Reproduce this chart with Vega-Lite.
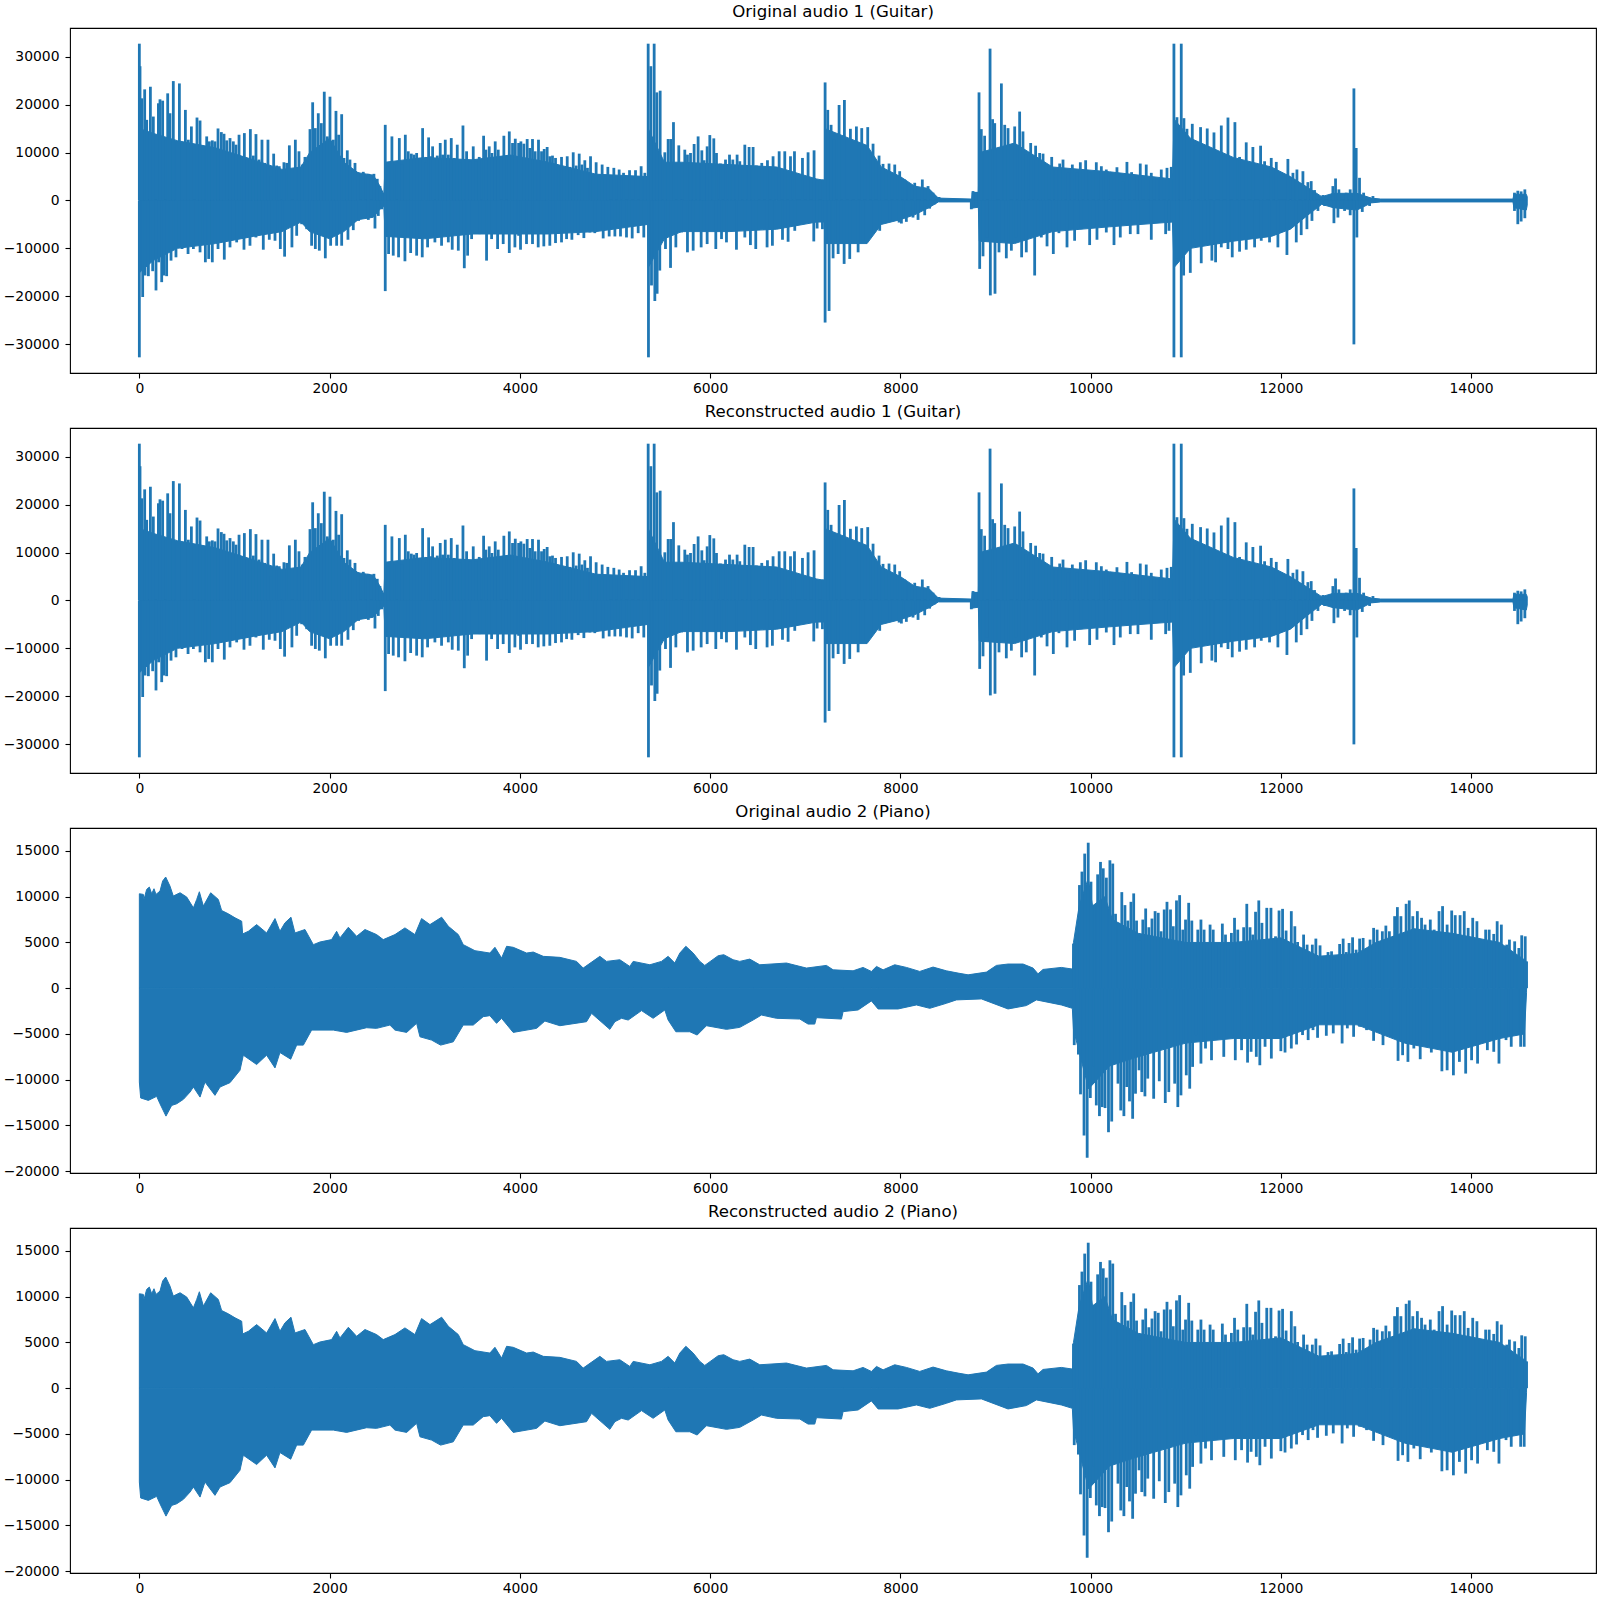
{"$schema":"https://vega.github.io/schema/vega-lite/v6.json","background":"white","padding":{"left":2,"top":3,"right":2,"bottom":2},"spacing":5,"config":{"view":{"stroke":"#000000","strokeWidth":1.1},"font":"DejaVu Sans","axis":{"grid":false,"domain":false,"tickColor":"#000000","tickWidth":1.1,"tickSize":5,"labelColor":"#000000","labelFontSize":13.9,"labelFont":"DejaVu Sans","title":null},"axisY":{"labelPadding":6,"minExtent":60,"maxExtent":60},"axisX":{"labelPadding":3,"minExtent":24,"maxExtent":24},"title":{"font":"DejaVu Sans","fontSize":16.6,"fontWeight":"normal","color":"#000000","offset":7}},
"datasets":{
"guitarEnv":[{"t":0,"v":0,"s":"top"},{"t":5,"v":15000,"s":"top"},{"t":150,"v":14000,"s":"top"},{"t":400,"v":12500,"s":"top"},{"t":800,"v":11000,"s":"top"},{"t":1200,"v":8500,"s":"top"},{"t":1500,"v":6500,"s":"top"},{"t":1700,"v":7000,"s":"top"},{"t":1790,"v":10000,"s":"top"},{"t":2000,"v":13000,"s":"top"},{"t":2150,"v":8000,"s":"top"},{"t":2300,"v":5800,"s":"top"},{"t":2460,"v":5300,"s":"top"},{"t":2530,"v":3000,"s":"top"},{"t":2570,"v":1300,"s":"top"},{"t":2585,"v":8000,"s":"top"},{"t":3000,"v":9000,"s":"top"},{"t":3500,"v":8500,"s":"top"},{"t":3900,"v":9500,"s":"top"},{"t":4300,"v":8000,"s":"top"},{"t":4800,"v":5500,"s":"top"},{"t":5345,"v":5000,"s":"top"},{"t":5350,"v":15000,"s":"top"},{"t":5520,"v":8000,"s":"top"},{"t":5700,"v":8000,"s":"top"},{"t":6200,"v":7500,"s":"top"},{"t":6700,"v":7000,"s":"top"},{"t":7120,"v":4500,"s":"top"},{"t":7205,"v":4200,"s":"top"},{"t":7210,"v":15000,"s":"top"},{"t":7650,"v":11500,"s":"top"},{"t":7800,"v":7000,"s":"top"},{"t":8000,"v":5000,"s":"top"},{"t":8150,"v":3000,"s":"top"},{"t":8300,"v":2500,"s":"top"},{"t":8400,"v":500,"s":"top"},{"t":8750,"v":300,"s":"top"},{"t":8755,"v":1700,"s":"top"},{"t":8820,"v":1700,"s":"top"},{"t":8830,"v":10000,"s":"top"},{"t":9200,"v":12000,"s":"top"},{"t":9600,"v":7000,"s":"top"},{"t":10200,"v":6000,"s":"top"},{"t":10860,"v":4500,"s":"top"},{"t":10878,"v":17000,"s":"top"},{"t":11050,"v":13000,"s":"top"},{"t":11500,"v":9000,"s":"top"},{"t":11900,"v":7000,"s":"top"},{"t":12100,"v":5000,"s":"top"},{"t":12300,"v":2500,"s":"top"},{"t":12430,"v":800,"s":"top"},{"t":12550,"v":1500,"s":"top"},{"t":12800,"v":1500,"s":"top"},{"t":12950,"v":500,"s":"top"},{"t":13050,"v":300,"s":"top"},{"t":14440,"v":300,"s":"top"},{"t":14450,"v":1300,"s":"top"},{"t":14580,"v":1300,"s":"top"},{"t":14590,"v":800,"s":"top"},
{"t":0,"v":0,"s":"bot"},{"t":5,"v":-15000,"s":"bot"},{"t":150,"v":-12500,"s":"bot"},{"t":400,"v":-10000,"s":"bot"},{"t":800,"v":-9000,"s":"bot"},{"t":1200,"v":-7500,"s":"bot"},{"t":1500,"v":-6500,"s":"bot"},{"t":1700,"v":-4500,"s":"bot"},{"t":1790,"v":-6500,"s":"bot"},{"t":2000,"v":-8000,"s":"bot"},{"t":2150,"v":-6500,"s":"bot"},{"t":2300,"v":-4000,"s":"bot"},{"t":2460,"v":-3500,"s":"bot"},{"t":2530,"v":-1800,"s":"bot"},{"t":2570,"v":-1200,"s":"bot"},{"t":2585,"v":-7500,"s":"bot"},{"t":3000,"v":-8000,"s":"bot"},{"t":3500,"v":-7000,"s":"bot"},{"t":3900,"v":-7000,"s":"bot"},{"t":4300,"v":-7000,"s":"bot"},{"t":4800,"v":-6500,"s":"bot"},{"t":5345,"v":-5000,"s":"bot"},{"t":5350,"v":-14000,"s":"bot"},{"t":5520,"v":-8000,"s":"bot"},{"t":5700,"v":-6500,"s":"bot"},{"t":6200,"v":-6500,"s":"bot"},{"t":6700,"v":-6000,"s":"bot"},{"t":7120,"v":-4500,"s":"bot"},{"t":7205,"v":-4500,"s":"bot"},{"t":7210,"v":-9000,"s":"bot"},{"t":7650,"v":-9000,"s":"bot"},{"t":7800,"v":-5000,"s":"bot"},{"t":8000,"v":-4000,"s":"bot"},{"t":8150,"v":-3000,"s":"bot"},{"t":8300,"v":-1500,"s":"bot"},{"t":8400,"v":-300,"s":"bot"},{"t":8750,"v":-300,"s":"bot"},{"t":8755,"v":-1600,"s":"bot"},{"t":8820,"v":-1400,"s":"bot"},{"t":8830,"v":-8500,"s":"bot"},{"t":9200,"v":-9000,"s":"bot"},{"t":9600,"v":-6500,"s":"bot"},{"t":10200,"v":-5500,"s":"bot"},{"t":10860,"v":-4500,"s":"bot"},{"t":10878,"v":-14000,"s":"bot"},{"t":11050,"v":-10000,"s":"bot"},{"t":11500,"v":-8500,"s":"bot"},{"t":11900,"v":-7500,"s":"bot"},{"t":12100,"v":-6000,"s":"bot"},{"t":12300,"v":-2800,"s":"bot"},{"t":12430,"v":-800,"s":"bot"},{"t":12550,"v":-1500,"s":"bot"},{"t":12800,"v":-2000,"s":"bot"},{"t":12950,"v":-500,"s":"bot"},{"t":13050,"v":-300,"s":"bot"},{"t":14440,"v":-300,"s":"bot"},{"t":14450,"v":-1500,"s":"bot"},{"t":14580,"v":-2000,"s":"bot"},{"t":14590,"v":-1000,"s":"bot"}],
"guitarSpikes":[{"t":0,"v":32767},{"t":7,"v":28060},{"t":25,"v":21350},{"t":56,"v":23220},{"t":77,"v":16850},{"t":116,"v":23770},{"t":147,"v":17540},{"t":200,"v":20310},{"t":217,"v":21140},{"t":245,"v":20860},{"t":298,"v":22390},{"t":322,"v":18230},{"t":357,"v":24950},{"t":393,"v":12350},{"t":421,"v":24460},{"t":452,"v":12010},{"t":484,"v":18930},{"t":515,"v":12700},{"t":547,"v":15470},{"t":606,"v":17330},{"t":638,"v":16710},{"t":673,"v":10620},{"t":708,"v":13390},{"t":736,"v":12350},{"t":767,"v":12560},{"t":795,"v":12350},{"t":827,"v":15050},{"t":862,"v":14290},{"t":890,"v":13940},{"t":918,"v":12560},{"t":953,"v":13040},{"t":988,"v":12350},{"t":1016,"v":11660},{"t":1048,"v":13740},{"t":1076,"v":9100},{"t":1104,"v":14080},{"t":1135,"v":8550},{"t":1167,"v":14910},{"t":1198,"v":9380},{"t":1226,"v":13870},{"t":1258,"v":8550},{"t":1289,"v":12700},{"t":1317,"v":7850},{"t":1352,"v":12700},{"t":1380,"v":5090},{"t":1412,"v":9790},{"t":1443,"v":7300},{"t":1471,"v":7160},{"t":1520,"v":7990},{"t":1549,"v":7850},{"t":1577,"v":11520},{"t":1640,"v":12700},{"t":1678,"v":10280},{"t":1713,"v":7510},{"t":1741,"v":9100},{"t":1766,"v":8200},{"t":1794,"v":14910},{"t":1822,"v":20520},{"t":1850,"v":15120},{"t":1881,"v":18230},{"t":1913,"v":16160},{"t":1944,"v":22730},{"t":1976,"v":13390},{"t":2004,"v":21690},{"t":2039,"v":12700},{"t":2067,"v":18720},{"t":2095,"v":13740},{"t":2127,"v":18030},{"t":2151,"v":8890},{"t":2186,"v":10480},{"t":2214,"v":8550},{"t":2242,"v":6470},{"t":2267,"v":7850},{"t":2298,"v":5920},{"t":2354,"v":5990},{"t":2407,"v":5570},{"t":2466,"v":5570},{"t":2501,"v":4530},{"t":2529,"v":3010},{"t":2557,"v":1490},{"t":2585,"v":15810},{"t":2617,"v":7020},{"t":2655,"v":13390},{"t":2683,"v":7510},{"t":2733,"v":13040},{"t":2764,"v":7510},{"t":2796,"v":13740},{"t":2827,"v":10280},{"t":2859,"v":9790},{"t":2887,"v":9580},{"t":2915,"v":9930},{"t":2946,"v":8890},{"t":2978,"v":15120},{"t":3009,"v":7850},{"t":3041,"v":13180},{"t":3069,"v":9240},{"t":3083,"v":11310},{"t":3132,"v":9380},{"t":3163,"v":12010},{"t":3188,"v":9580},{"t":3216,"v":12700},{"t":3248,"v":9580},{"t":3279,"v":13040},{"t":3311,"v":8890},{"t":3342,"v":11660},{"t":3370,"v":7850},{"t":3402,"v":15670},{"t":3440,"v":10280},{"t":3475,"v":8200},{"t":3510,"v":11310},{"t":3538,"v":8200},{"t":3573,"v":9100},{"t":3619,"v":13530},{"t":3643,"v":10620},{"t":3678,"v":11310},{"t":3706,"v":9930},{"t":3741,"v":12350},{"t":3773,"v":10620},{"t":3832,"v":13530},{"t":3889,"v":14430},{"t":3923,"v":12010},{"t":3952,"v":12910},{"t":3987,"v":12010},{"t":4011,"v":12350},{"t":4042,"v":11870},{"t":4077,"v":12840},{"t":4105,"v":10970},{"t":4133,"v":12840},{"t":4161,"v":10280},{"t":4196,"v":12700},{"t":4228,"v":10280},{"t":4256,"v":10760},{"t":4287,"v":11180},{"t":4315,"v":9240},{"t":4343,"v":9380},{"t":4375,"v":8890},{"t":4407,"v":7020},{"t":4438,"v":9100},{"t":4466,"v":6610},{"t":4498,"v":9240},{"t":4526,"v":7020},{"t":4561,"v":10070},{"t":4592,"v":7300},{"t":4624,"v":9790},{"t":4652,"v":7510},{"t":4683,"v":8410},{"t":4711,"v":6820},{"t":4743,"v":9240},{"t":4771,"v":5090},{"t":4802,"v":7990},{"t":4834,"v":5430},{"t":4865,"v":7510},{"t":4893,"v":5090},{"t":4925,"v":7020},{"t":4988,"v":6820},{"t":5044,"v":6470},{"t":5090,"v":5780},{"t":5153,"v":6330},{"t":5216,"v":6330},{"t":5275,"v":7160},{"t":5314,"v":5780},{"t":5349,"v":32767},{"t":5377,"v":28060},{"t":5412,"v":32767},{"t":5440,"v":22590},{"t":5475,"v":22940},{"t":5524,"v":10070},{"t":5559,"v":12840},{"t":5587,"v":12840},{"t":5615,"v":16370},{"t":5671,"v":11520},{"t":5734,"v":10620},{"t":5762,"v":9580},{"t":5794,"v":9930},{"t":5832,"v":11800},{"t":5874,"v":13390},{"t":5913,"v":10480},{"t":5937,"v":8410},{"t":5969,"v":11310},{"t":5997,"v":13670},{"t":6039,"v":12980},{"t":6067,"v":9930},{"t":6109,"v":7720},{"t":6162,"v":8550},{"t":6204,"v":9580},{"t":6239,"v":8550},{"t":6284,"v":9580},{"t":6312,"v":8200},{"t":6365,"v":11660},{"t":6410,"v":11180},{"t":6452,"v":11180},{"t":6487,"v":7300},{"t":6543,"v":7850},{"t":6603,"v":8410},{"t":6662,"v":9240},{"t":6726,"v":10280},{"t":6785,"v":10280},{"t":6845,"v":9240},{"t":6887,"v":10280},{"t":6971,"v":8890},{"t":7030,"v":10070},{"t":7093,"v":10480},{"t":7125,"v":4260},{"t":7188,"v":4390},{"t":7209,"v":24670},{"t":7237,"v":18930},{"t":7272,"v":15810},{"t":7304,"v":12700},{"t":7356,"v":19960},{"t":7412,"v":21000},{"t":7475,"v":14980},{"t":7538,"v":15470},{"t":7594,"v":15120},{"t":7657,"v":15330},{"t":7713,"v":11870},{"t":7776,"v":9380},{"t":7818,"v":7650},{"t":7881,"v":7720},{"t":7941,"v":7510},{"t":7993,"v":6120},{"t":8046,"v":4390},{"t":8091,"v":3360},{"t":8151,"v":3700},{"t":8231,"v":4390},{"t":8291,"v":3010},{"t":8343,"v":1630},{"t":8407,"v":730},{"t":8764,"v":1970},{"t":8799,"v":1760},{"t":8827,"v":22590},{"t":8851,"v":14910},{"t":8886,"v":13530},{"t":8943,"v":31730},{"t":8970,"v":16990},{"t":8992,"v":16160},{"t":9062,"v":24460},{"t":9097,"v":15810},{"t":9132,"v":15120},{"t":9202,"v":15470},{"t":9254,"v":18580},{"t":9289,"v":14430},{"t":9324,"v":9580},{"t":9370,"v":12010},{"t":9422,"v":11450},{"t":9464,"v":9930},{"t":9500,"v":9790},{"t":9535,"v":7510},{"t":9591,"v":9100},{"t":9640,"v":6820},{"t":9675,"v":7720},{"t":9710,"v":8550},{"t":9765,"v":5780},{"t":9808,"v":7510},{"t":9857,"v":5780},{"t":9892,"v":7990},{"t":9948,"v":8410},{"t":9997,"v":5780},{"t":10060,"v":7990},{"t":10113,"v":7160},{"t":10165,"v":6470},{"t":10218,"v":5430},{"t":10277,"v":6950},{"t":10340,"v":4050},{"t":10382,"v":8060},{"t":10431,"v":5920},{"t":10487,"v":5090},{"t":10522,"v":7720},{"t":10585,"v":7510},{"t":10638,"v":5780},{"t":10697,"v":4390},{"t":10743,"v":6470},{"t":10803,"v":6820},{"t":10848,"v":7020},{"t":10876,"v":32767},{"t":10908,"v":17400},{"t":10953,"v":32767},{"t":10981,"v":17200},{"t":11013,"v":14980},{"t":11069,"v":16020},{"t":11104,"v":11450},{"t":11156,"v":15330},{"t":11181,"v":11520},{"t":11226,"v":15050},{"t":11297,"v":14220},{"t":11374,"v":15670},{"t":11444,"v":17330},{"t":11517,"v":16370},{"t":11566,"v":9100},{"t":11636,"v":12150},{"t":11706,"v":11180},{"t":11787,"v":11450},{"t":11829,"v":8200},{"t":11899,"v":8890},{"t":11952,"v":8060},{"t":12074,"v":8680},{"t":12127,"v":5780},{"t":12169,"v":6470},{"t":12232,"v":6120},{"t":12284,"v":3840},{"t":12319,"v":4050},{"t":12354,"v":2180},{"t":12442,"v":1140},{"t":12512,"v":590},{"t":12547,"v":3010},{"t":12575,"v":4600},{"t":12610,"v":2320},{"t":12687,"v":1630},{"t":12729,"v":2320},{"t":12768,"v":23420},{"t":12792,"v":10970},{"t":12827,"v":4740},{"t":12870,"v":1630},{"t":12933,"v":590},{"t":12968,"v":930},{"t":14456,"v":1630},{"t":14491,"v":2040},{"t":14526,"v":1900},{"t":14565,"v":2320},
{"t":0,"v":-32768},{"t":35,"v":-20170},{"t":60,"v":-15670},{"t":95,"v":-15810},{"t":140,"v":-14770},{"t":175,"v":-18790},{"t":203,"v":-12910},{"t":235,"v":-17060},{"t":259,"v":-15670},{"t":287,"v":-15810},{"t":333,"v":-12560},{"t":385,"v":-11870},{"t":449,"v":-10140},{"t":512,"v":-11180},{"t":568,"v":-10140},{"t":638,"v":-10830},{"t":694,"v":-12910},{"t":729,"v":-12210},{"t":767,"v":-12910},{"t":827,"v":-10140},{"t":893,"v":-12350},{"t":953,"v":-9790},{"t":1023,"v":-8750},{"t":1100,"v":-10280},{"t":1163,"v":-9450},{"t":1226,"v":-7720},{"t":1303,"v":-10280},{"t":1366,"v":-8200},{"t":1426,"v":-8410},{"t":1482,"v":-10140},{"t":1527,"v":-11730},{"t":1604,"v":-9790},{"t":1654,"v":-7370},{"t":1706,"v":-4950},{"t":1759,"v":-5990},{"t":1811,"v":-9450},{"t":1850,"v":-10140},{"t":1892,"v":-10480},{"t":1955,"v":-12080},{"t":2011,"v":-9450},{"t":2074,"v":-9450},{"t":2127,"v":-9450},{"t":2193,"v":-8200},{"t":2249,"v":-6190},{"t":2305,"v":-4260},{"t":2407,"v":-4050},{"t":2477,"v":-5850},{"t":2512,"v":-3220},{"t":2547,"v":-1830},{"t":2585,"v":-18930},{"t":2620,"v":-11180},{"t":2669,"v":-11520},{"t":2725,"v":-11870},{"t":2792,"v":-12700},{"t":2852,"v":-10970},{"t":2915,"v":-11520},{"t":2974,"v":-11870},{"t":3030,"v":-9790},{"t":3107,"v":-8750},{"t":3177,"v":-9450},{"t":3248,"v":-8750},{"t":3289,"v":-10280},{"t":3353,"v":-10480},{"t":3416,"v":-14150},{"t":3451,"v":-11520},{"t":3493,"v":-8060},{"t":3580,"v":-7020},{"t":3650,"v":-12560},{"t":3703,"v":-8060},{"t":3766,"v":-10140},{"t":3825,"v":-9100},{"t":3889,"v":-10970},{"t":3948,"v":-9790},{"t":3987,"v":-7370},{"t":4007,"v":-10280},{"t":4070,"v":-9100},{"t":4133,"v":-9100},{"t":4193,"v":-9790},{"t":4252,"v":-9580},{"t":4315,"v":-9450},{"t":4375,"v":-8890},{"t":4438,"v":-8750},{"t":4491,"v":-8060},{"t":4547,"v":-8200},{"t":4613,"v":-7230},{"t":4673,"v":-7850},{"t":4736,"v":-6680},{"t":4788,"v":-6820},{"t":4876,"v":-7920},{"t":4939,"v":-7510},{"t":4999,"v":-7510},{"t":5058,"v":-7510},{"t":5121,"v":-7720},{"t":5181,"v":-7920},{"t":5244,"v":-6820},{"t":5303,"v":-7720},{"t":5352,"v":-32768},{"t":5384,"v":-17750},{"t":5419,"v":-21000},{"t":5443,"v":-19480},{"t":5471,"v":-14640},{"t":5531,"v":-10140},{"t":5584,"v":-14080},{"t":5640,"v":-9790},{"t":5699,"v":-6680},{"t":5762,"v":-10830},{"t":5822,"v":-10480},{"t":5906,"v":-9790},{"t":5969,"v":-9100},{"t":6060,"v":-10140},{"t":6120,"v":-8060},{"t":6172,"v":-8750},{"t":6277,"v":-10280},{"t":6365,"v":-7720},{"t":6424,"v":-9310},{"t":6480,"v":-10140},{"t":6599,"v":-9790},{"t":6655,"v":-9450},{"t":6761,"v":-8200},{"t":6820,"v":-8620},{"t":6890,"v":-6330},{"t":7090,"v":-8550},{"t":7125,"v":-5850},{"t":7181,"v":-5990},{"t":7209,"v":-25500},{"t":7251,"v":-23080},{"t":7293,"v":-12080},{"t":7346,"v":-11180},{"t":7409,"v":-13250},{"t":7468,"v":-12210},{"t":7556,"v":-10830},{"t":7608,"v":-8410},{"t":7696,"v":-6680},{"t":7783,"v":-6330},{"t":7889,"v":-4260},{"t":7987,"v":-4600},{"t":8011,"v":-4810},{"t":8063,"v":-4460},{"t":8133,"v":-3560},{"t":8186,"v":-4050},{"t":8256,"v":-3080},{"t":8308,"v":-1700},{"t":8361,"v":-800},{"t":8449,"v":-240},{"t":8746,"v":-1830},{"t":8799,"v":-1490},{"t":8834,"v":-14290},{"t":8869,"v":-11660},{"t":8911,"v":-7720},{"t":8946,"v":-19830},{"t":8995,"v":-19480},{"t":9037,"v":-10830},{"t":9114,"v":-12080},{"t":9167,"v":-10480},{"t":9219,"v":-7720},{"t":9275,"v":-11870},{"t":9324,"v":-10830},{"t":9412,"v":-15670},{"t":9482,"v":-7720},{"t":9542,"v":-9580},{"t":9608,"v":-11180},{"t":9667,"v":-6820},{"t":9752,"v":-9790},{"t":9832,"v":-8410},{"t":9902,"v":-5990},{"t":9990,"v":-9310},{"t":10067,"v":-8200},{"t":10165,"v":-6680},{"t":10246,"v":-9310},{"t":10312,"v":-7720},{"t":10417,"v":-7020},{"t":10498,"v":-7020},{"t":10638,"v":-8200},{"t":10789,"v":-7020},{"t":10824,"v":-6330},{"t":10876,"v":-32768},{"t":10911,"v":-12210},{"t":10953,"v":-32768},{"t":10978,"v":-15670},{"t":11048,"v":-15120},{"t":11093,"v":-8060},{"t":11163,"v":-13110},{"t":11234,"v":-9100},{"t":11275,"v":-12560},{"t":11314,"v":-12910},{"t":11374,"v":-9790},{"t":11444,"v":-10140},{"t":11489,"v":-11870},{"t":11566,"v":-10690},{"t":11636,"v":-10280},{"t":11724,"v":-9790},{"t":11794,"v":-8410},{"t":11881,"v":-8750},{"t":11969,"v":-9790},{"t":12064,"v":-11380},{"t":12162,"v":-8750},{"t":12214,"v":-7230},{"t":12274,"v":-5990},{"t":12327,"v":-4260},{"t":12390,"v":-2180},{"t":12460,"v":-1140},{"t":12519,"v":-310},{"t":12558,"v":-4740},{"t":12600,"v":-3560},{"t":12670,"v":-2180},{"t":12729,"v":-3080},{"t":12768,"v":-30060},{"t":12799,"v":-7720},{"t":12856,"v":-2390},{"t":12933,"v":-1140},{"t":12985,"v":-450},{"t":14456,"v":-2180},{"t":14491,"v":-4950},{"t":14526,"v":-4390},{"t":14565,"v":-3700}],
"pianoEnv":[{"t":0,"v":10320,"s":"top"},{"t":42,"v":10250,"s":"top"},{"t":49,"v":9700,"s":"top"},{"t":77,"v":10800,"s":"top"},{"t":105,"v":11050,"s":"top"},{"t":130,"v":10320,"s":"top"},{"t":154,"v":10870,"s":"top"},{"t":175,"v":10250,"s":"top"},{"t":217,"v":10610,"s":"top"},{"t":245,"v":11710,"s":"top"},{"t":277,"v":12150,"s":"top"},{"t":322,"v":11160,"s":"top"},{"t":357,"v":10070,"s":"top"},{"t":428,"v":10430,"s":"top"},{"t":498,"v":9960,"s":"top"},{"t":568,"v":8780,"s":"top"},{"t":603,"v":9700,"s":"top"},{"t":631,"v":10540,"s":"top"},{"t":673,"v":8970,"s":"top"},{"t":750,"v":10430,"s":"top"},{"t":830,"v":9700,"s":"top"},{"t":865,"v":8490,"s":"top"},{"t":935,"v":8130,"s":"top"},{"t":1006,"v":7690,"s":"top"},{"t":1076,"v":7320,"s":"top"},{"t":1086,"v":5930,"s":"top"},{"t":1146,"v":6220,"s":"top"},{"t":1233,"v":6950,"s":"top"},{"t":1338,"v":6040,"s":"top"},{"t":1426,"v":7610,"s":"top"},{"t":1478,"v":6220,"s":"top"},{"t":1531,"v":7140,"s":"top"},{"t":1594,"v":7760,"s":"top"},{"t":1636,"v":6040,"s":"top"},{"t":1741,"v":6410,"s":"top"},{"t":1829,"v":4760,"s":"top"},{"t":1899,"v":5050,"s":"top"},{"t":2021,"v":5310,"s":"top"},{"t":2074,"v":6220,"s":"top"},{"t":2109,"v":5490,"s":"top"},{"t":2197,"v":6660,"s":"top"},{"t":2284,"v":5670,"s":"top"},{"t":2372,"v":6410,"s":"top"},{"t":2494,"v":5860,"s":"top"},{"t":2564,"v":5310,"s":"top"},{"t":2687,"v":5860,"s":"top"},{"t":2792,"v":6590,"s":"top"},{"t":2897,"v":5860,"s":"top"},{"t":2967,"v":7610,"s":"top"},{"t":3055,"v":6950,"s":"top"},{"t":3178,"v":7760,"s":"top"},{"t":3248,"v":6770,"s":"top"},{"t":3353,"v":5860,"s":"top"},{"t":3405,"v":4760,"s":"top"},{"t":3528,"v":4100,"s":"top"},{"t":3685,"v":3840,"s":"top"},{"t":3738,"v":4470,"s":"top"},{"t":3808,"v":3290,"s":"top"},{"t":3861,"v":4580,"s":"top"},{"t":3930,"v":4470,"s":"top"},{"t":4071,"v":3840,"s":"top"},{"t":4141,"v":3950,"s":"top"},{"t":4246,"v":3480,"s":"top"},{"t":4421,"v":3370,"s":"top"},{"t":4596,"v":2930,"s":"top"},{"t":4666,"v":2200,"s":"top"},{"t":4841,"v":3480,"s":"top"},{"t":4911,"v":2930,"s":"top"},{"t":5051,"v":3110,"s":"top"},{"t":5156,"v":2380,"s":"top"},{"t":5191,"v":2930,"s":"top"},{"t":5367,"v":2560,"s":"top"},{"t":5489,"v":2930,"s":"top"},{"t":5559,"v":3480,"s":"top"},{"t":5629,"v":2750,"s":"top"},{"t":5682,"v":3840,"s":"top"},{"t":5745,"v":4580,"s":"top"},{"t":5822,"v":3840,"s":"top"},{"t":5892,"v":2930,"s":"top"},{"t":5944,"v":2490,"s":"top"},{"t":6085,"v":3550,"s":"top"},{"t":6144,"v":3660,"s":"top"},{"t":6242,"v":3110,"s":"top"},{"t":6312,"v":2930,"s":"top"},{"t":6417,"v":3180,"s":"top"},{"t":6522,"v":2560,"s":"top"},{"t":6803,"v":2750,"s":"top"},{"t":7013,"v":2200,"s":"top"},{"t":7223,"v":2490,"s":"top"},{"t":7293,"v":2010,"s":"top"},{"t":7503,"v":1900,"s":"top"},{"t":7608,"v":2270,"s":"top"},{"t":7696,"v":1830,"s":"top"},{"t":7749,"v":2380,"s":"top"},{"t":7819,"v":2010,"s":"top"},{"t":7941,"v":2560,"s":"top"},{"t":8064,"v":2270,"s":"top"},{"t":8204,"v":1830,"s":"top"},{"t":8344,"v":2310,"s":"top"},{"t":8484,"v":1900,"s":"top"},{"t":8607,"v":1650,"s":"top"},{"t":8712,"v":1460,"s":"top"},{"t":8905,"v":1760,"s":"top"},{"t":9010,"v":2490,"s":"top"},{"t":9132,"v":2640,"s":"top"},{"t":9290,"v":2640,"s":"top"},{"t":9395,"v":2200,"s":"top"},{"t":9447,"v":1570,"s":"top"},{"t":9500,"v":2050,"s":"top"},{"t":9692,"v":2270,"s":"top"},{"t":9810,"v":2090,"s":"top"},{"t":9820,"v":5000,"s":"top"},{"t":9880,"v":9000,"s":"top"},{"t":9975,"v":12000,"s":"top"},{"t":10020,"v":9000,"s":"top"},{"t":10150,"v":10000,"s":"top"},{"t":10230,"v":7500,"s":"top"},{"t":10500,"v":6000,"s":"top"},{"t":11000,"v":5000,"s":"top"},{"t":11500,"v":5000,"s":"top"},{"t":12000,"v":5500,"s":"top"},{"t":12400,"v":3500,"s":"top"},{"t":12800,"v":3800,"s":"top"},{"t":13000,"v":5000,"s":"top"},{"t":13400,"v":6500,"s":"top"},{"t":13800,"v":6000,"s":"top"},{"t":14300,"v":5000,"s":"top"},{"t":14575,"v":3000,"s":"top"},{"t":14583,"v":1000,"s":"top"},
{"t":0,"v":-10250,"s":"bot"},{"t":14,"v":-12000,"s":"bot"},{"t":95,"v":-12260,"s":"bot"},{"t":182,"v":-11820,"s":"bot"},{"t":217,"v":-12630,"s":"bot"},{"t":280,"v":-13980,"s":"bot"},{"t":340,"v":-12810,"s":"bot"},{"t":393,"v":-12630,"s":"bot"},{"t":463,"v":-12150,"s":"bot"},{"t":533,"v":-11350,"s":"bot"},{"t":568,"v":-10800,"s":"bot"},{"t":638,"v":-11900,"s":"bot"},{"t":690,"v":-10250,"s":"bot"},{"t":795,"v":-11710,"s":"bot"},{"t":848,"v":-10800,"s":"bot"},{"t":953,"v":-10320,"s":"bot"},{"t":1058,"v":-8970,"s":"bot"},{"t":1093,"v":-7320,"s":"bot"},{"t":1233,"v":-8340,"s":"bot"},{"t":1338,"v":-7320,"s":"bot"},{"t":1426,"v":-8710,"s":"bot"},{"t":1478,"v":-7030,"s":"bot"},{"t":1591,"v":-7760,"s":"bot"},{"t":1654,"v":-6220,"s":"bot"},{"t":1724,"v":-6220,"s":"bot"},{"t":1811,"v":-4580,"s":"bot"},{"t":1899,"v":-4580,"s":"bot"},{"t":2039,"v":-4580,"s":"bot"},{"t":2179,"v":-4830,"s":"bot"},{"t":2389,"v":-4320,"s":"bot"},{"t":2494,"v":-4390,"s":"bot"},{"t":2634,"v":-4030,"s":"bot"},{"t":2687,"v":-4580,"s":"bot"},{"t":2810,"v":-4830,"s":"bot"},{"t":2915,"v":-3840,"s":"bot"},{"t":2950,"v":-5310,"s":"bot"},{"t":3072,"v":-5670,"s":"bot"},{"t":3167,"v":-6220,"s":"bot"},{"t":3300,"v":-5860,"s":"bot"},{"t":3405,"v":-4030,"s":"bot"},{"t":3510,"v":-4030,"s":"bot"},{"t":3615,"v":-3110,"s":"bot"},{"t":3685,"v":-3000,"s":"bot"},{"t":3755,"v":-3840,"s":"bot"},{"t":3808,"v":-3290,"s":"bot"},{"t":3930,"v":-4830,"s":"bot"},{"t":4176,"v":-4390,"s":"bot"},{"t":4263,"v":-3590,"s":"bot"},{"t":4421,"v":-4100,"s":"bot"},{"t":4701,"v":-3660,"s":"bot"},{"t":4754,"v":-2750,"s":"bot"},{"t":4946,"v":-4500,"s":"bot"},{"t":4999,"v":-3660,"s":"bot"},{"t":5069,"v":-3290,"s":"bot"},{"t":5139,"v":-3480,"s":"bot"},{"t":5279,"v":-2450,"s":"bot"},{"t":5401,"v":-3290,"s":"bot"},{"t":5524,"v":-2380,"s":"bot"},{"t":5559,"v":-3480,"s":"bot"},{"t":5640,"v":-4760,"s":"bot"},{"t":5787,"v":-4760,"s":"bot"},{"t":5864,"v":-5120,"s":"bot"},{"t":5962,"v":-4100,"s":"bot"},{"t":6172,"v":-4500,"s":"bot"},{"t":6312,"v":-4280,"s":"bot"},{"t":6452,"v":-3480,"s":"bot"},{"t":6540,"v":-2930,"s":"bot"},{"t":6698,"v":-3290,"s":"bot"},{"t":6943,"v":-3370,"s":"bot"},{"t":7030,"v":-3920,"s":"bot"},{"t":7100,"v":-3920,"s":"bot"},{"t":7118,"v":-3220,"s":"bot"},{"t":7381,"v":-3370,"s":"bot"},{"t":7398,"v":-2560,"s":"bot"},{"t":7556,"v":-2380,"s":"bot"},{"t":7696,"v":-1390,"s":"bot"},{"t":7766,"v":-2270,"s":"bot"},{"t":7976,"v":-2270,"s":"bot"},{"t":8169,"v":-1830,"s":"bot"},{"t":8309,"v":-2200,"s":"bot"},{"t":8484,"v":-1650,"s":"bot"},{"t":8589,"v":-1280,"s":"bot"},{"t":8852,"v":-1170,"s":"bot"},{"t":9132,"v":-2270,"s":"bot"},{"t":9325,"v":-1900,"s":"bot"},{"t":9430,"v":-1280,"s":"bot"},{"t":9692,"v":-1830,"s":"bot"},{"t":9808,"v":-2200,"s":"bot"},{"t":9820,"v":-4500,"s":"bot"},{"t":9880,"v":-7000,"s":"bot"},{"t":9980,"v":-11000,"s":"bot"},{"t":10200,"v":-8500,"s":"bot"},{"t":10500,"v":-7500,"s":"bot"},{"t":11000,"v":-6000,"s":"bot"},{"t":11500,"v":-5500,"s":"bot"},{"t":12000,"v":-5500,"s":"bot"},{"t":12400,"v":-4000,"s":"bot"},{"t":12800,"v":-4000,"s":"bot"},{"t":13300,"v":-6000,"s":"bot"},{"t":13800,"v":-7000,"s":"bot"},{"t":14300,"v":-5500,"s":"bot"},{"t":14560,"v":-5000,"s":"bot"},{"t":14583,"v":-500,"s":"bot"}],
"pianoSpikes":[{"t":9820,"v":4870},{"t":9857,"v":5670},{"t":9883,"v":11270},{"t":9909,"v":12740},{"t":9938,"v":14710},{"t":9975,"v":15900},{"t":10004,"v":11640},{"t":10041,"v":9080},{"t":10074,"v":12440},{"t":10104,"v":13800},{"t":10133,"v":13100},{"t":10166,"v":12080},{"t":10203,"v":13980},{"t":10233,"v":13620},{"t":10262,"v":8130},{"t":10295,"v":7140},{"t":10328,"v":10500},{"t":10361,"v":9080},{"t":10391,"v":7390},{"t":10424,"v":9440},{"t":10453,"v":10360},{"t":10483,"v":7390},{"t":10516,"v":5200},{"t":10549,"v":7500},{"t":10579,"v":8710},{"t":10612,"v":6660},{"t":10645,"v":7610},{"t":10678,"v":8420},{"t":10711,"v":8240},{"t":10741,"v":6220},{"t":10774,"v":8600},{"t":10803,"v":9440},{"t":10840,"v":8600},{"t":10869,"v":6770},{"t":10903,"v":9590},{"t":10936,"v":10170},{"t":10969,"v":6400},{"t":10998,"v":7500},{"t":11031,"v":9330},{"t":11064,"v":7390},{"t":11094,"v":4210},{"t":11127,"v":6400},{"t":11160,"v":7500},{"t":11193,"v":6400},{"t":11223,"v":4390},{"t":11256,"v":6950},{"t":11289,"v":6400},{"t":11318,"v":4580},{"t":11352,"v":4760},{"t":11385,"v":7060},{"t":11418,"v":5860},{"t":11447,"v":4390},{"t":11480,"v":6040},{"t":11513,"v":7690},{"t":11547,"v":6400},{"t":11580,"v":4030},{"t":11609,"v":6660},{"t":11642,"v":9220},{"t":11676,"v":6660},{"t":11705,"v":5860},{"t":11734,"v":8350},{"t":11768,"v":9590},{"t":11801,"v":7140},{"t":11852,"v":8780},{"t":11896,"v":8780},{"t":11944,"v":5670},{"t":11981,"v":8490},{"t":12018,"v":8670},{"t":12055,"v":6300},{"t":12110,"v":8420},{"t":12147,"v":6770},{"t":12176,"v":5050},{"t":12239,"v":5860},{"t":12276,"v":4760},{"t":12331,"v":4760},{"t":12368,"v":5420},{"t":12412,"v":4680},{"t":12460,"v":3480},{"t":12496,"v":3950},{"t":12533,"v":4030},{"t":12563,"v":3110},{"t":12618,"v":4830},{"t":12655,"v":5420},{"t":12688,"v":3950},{"t":12717,"v":4940},{"t":12754,"v":5560},{"t":12791,"v":4210},{"t":12828,"v":5420},{"t":12865,"v":5490},{"t":12901,"v":4210},{"t":12938,"v":5310},{"t":12975,"v":6590},{"t":13012,"v":6400},{"t":13067,"v":6220},{"t":13104,"v":6840},{"t":13141,"v":6220},{"t":13196,"v":7870},{"t":13225,"v":8860},{"t":13262,"v":7870},{"t":13317,"v":9220},{"t":13350,"v":9590},{"t":13387,"v":7870},{"t":13435,"v":8420},{"t":13479,"v":7690},{"t":13516,"v":6950},{"t":13571,"v":7500},{"t":13612,"v":6400},{"t":13663,"v":8420},{"t":13700,"v":8970},{"t":13748,"v":6950},{"t":13796,"v":8490},{"t":13833,"v":7980},{"t":13884,"v":7980},{"t":13928,"v":8420},{"t":13969,"v":6590},{"t":14017,"v":7690},{"t":14061,"v":7320},{"t":14105,"v":4940},{"t":14153,"v":6400},{"t":14190,"v":6400},{"t":14238,"v":5930},{"t":14274,"v":7320},{"t":14318,"v":6950},{"t":14374,"v":4760},{"t":14403,"v":5310},{"t":14458,"v":5120},{"t":14502,"v":4390},{"t":14532,"v":5780},{"t":14569,"v":5670},{"t":14583,"v":2930},
{"t":9828,"v":-6220},{"t":9872,"v":-7250},{"t":9894,"v":-11600},{"t":9931,"v":-16100},{"t":9964,"v":-18530},{"t":9997,"v":-12000},{"t":10030,"v":-8600},{"t":10060,"v":-12810},{"t":10093,"v":-13980},{"t":10122,"v":-12990},{"t":10152,"v":-13100},{"t":10188,"v":-15740},{"t":10222,"v":-14570},{"t":10251,"v":-8050},{"t":10288,"v":-10430},{"t":10317,"v":-13360},{"t":10350,"v":-13980},{"t":10380,"v":-10800},{"t":10409,"v":-12370},{"t":10442,"v":-14270},{"t":10472,"v":-11530},{"t":10509,"v":-8970},{"t":10538,"v":-11350},{"t":10571,"v":-11820},{"t":10601,"v":-9880},{"t":10663,"v":-12080},{"t":10722,"v":-10170},{"t":10785,"v":-12550},{"t":10822,"v":-11350},{"t":10884,"v":-10430},{"t":10917,"v":-12990},{"t":10950,"v":-11710},{"t":11006,"v":-9520},{"t":11042,"v":-10980},{"t":11072,"v":-8600},{"t":11109,"v":-5120},{"t":11160,"v":-8240},{"t":11208,"v":-6590},{"t":11271,"v":-7870},{"t":11318,"v":-5490},{"t":11400,"v":-7500},{"t":11495,"v":-5120},{"t":11521,"v":-7870},{"t":11587,"v":-6770},{"t":11650,"v":-8130},{"t":11687,"v":-6950},{"t":11742,"v":-7500},{"t":11779,"v":-8420},{"t":11834,"v":-6400},{"t":11900,"v":-7690},{"t":12000,"v":-6880},{"t":12044,"v":-7030},{"t":12110,"v":-6590},{"t":12165,"v":-6150},{"t":12228,"v":-5120},{"t":12287,"v":-5670},{"t":12338,"v":-4580},{"t":12386,"v":-5420},{"t":12478,"v":-5200},{"t":12551,"v":-4940},{"t":12644,"v":-6040},{"t":12699,"v":-4390},{"t":12765,"v":-5310},{"t":12828,"v":-4210},{"t":12901,"v":-4580},{"t":12975,"v":-5750},{"t":13074,"v":-6220},{"t":13159,"v":-5200},{"t":13232,"v":-7940},{"t":13280,"v":-7320},{"t":13336,"v":-8050},{"t":13398,"v":-6590},{"t":13465,"v":-7760},{"t":13546,"v":-6220},{"t":13582,"v":-7030},{"t":13693,"v":-9080},{"t":13748,"v":-8970},{"t":13814,"v":-9520},{"t":13877,"v":-8050},{"t":13943,"v":-9330},{"t":14005,"v":-7870},{"t":14068,"v":-8240},{"t":14134,"v":-5860},{"t":14171,"v":-6770},{"t":14238,"v":-6950},{"t":14293,"v":-8240},{"t":14367,"v":-5670},{"t":14422,"v":-6400},{"t":14484,"v":-4760},{"t":14521,"v":-6400},{"t":14558,"v":-6400}]
},
"vconcat":[
{"title":"Original audio 1 (Guitar)","width":1526,"height":345,"layer":[
{"data":{"name":"guitarEnv"},"mark":{"type":"area","color":"#1f77b4","stroke":"#1f77b4","strokeWidth":1},"encoding":{"x":{"field":"t","type":"quantitative","scale":{"domain":[-729,15313],"nice":false,"zero":false},"axis":{"values":[0,2000,4000,6000,8000,10000,12000,14000],"format":"d"}},"y":{"field":"v","type":"quantitative","stack":null,"scale":{"domain":[-36044,36043],"nice":false},"axis":{"values":[-30000,-20000,-10000,0,10000,20000,30000],"format":"d"}},"y2":{"datum":0},"detail":{"field":"s"}}},
{"data":{"name":"guitarSpikes"},"mark":{"type":"rule","color":"#1f77b4","size":2.8},"encoding":{"x":{"field":"t","type":"quantitative"},"y":{"field":"v","type":"quantitative"},"y2":{"datum":0}}}]},
{"title":"Reconstructed audio 1 (Guitar)","width":1526,"height":345,"layer":[
{"data":{"name":"guitarEnv"},"mark":{"type":"area","color":"#1f77b4","stroke":"#1f77b4","strokeWidth":1},"encoding":{"x":{"field":"t","type":"quantitative","scale":{"domain":[-729,15313],"nice":false,"zero":false},"axis":{"values":[0,2000,4000,6000,8000,10000,12000,14000],"format":"d"}},"y":{"field":"v","type":"quantitative","stack":null,"scale":{"domain":[-36044,36043],"nice":false},"axis":{"values":[-30000,-20000,-10000,0,10000,20000,30000],"format":"d"}},"y2":{"datum":0},"detail":{"field":"s"}}},
{"data":{"name":"guitarSpikes"},"mark":{"type":"rule","color":"#1f77b4","size":2.8},"encoding":{"x":{"field":"t","type":"quantitative"},"y":{"field":"v","type":"quantitative"},"y2":{"datum":0}}}]},
{"title":"Original audio 2 (Piano)","width":1526,"height":345,"layer":[
{"data":{"name":"pianoEnv"},"mark":{"type":"area","color":"#1f77b4","stroke":"#1f77b4","strokeWidth":1},"encoding":{"x":{"field":"t","type":"quantitative","scale":{"domain":[-729,15313],"nice":false,"zero":false},"axis":{"values":[0,2000,4000,6000,8000,10000,12000,14000],"format":"d"}},"y":{"field":"v","type":"quantitative","stack":null,"scale":{"domain":[-20197,17508],"nice":false},"axis":{"values":[-20000,-15000,-10000,-5000,0,5000,10000,15000],"format":"d"}},"y2":{"datum":0},"detail":{"field":"s"}}},
{"data":{"name":"pianoSpikes"},"mark":{"type":"rule","color":"#1f77b4","size":2.8},"encoding":{"x":{"field":"t","type":"quantitative"},"y":{"field":"v","type":"quantitative"},"y2":{"datum":0}}}]},
{"title":"Reconstructed audio 2 (Piano)","width":1526,"height":345,"layer":[
{"data":{"name":"pianoEnv"},"mark":{"type":"area","color":"#1f77b4","stroke":"#1f77b4","strokeWidth":1},"encoding":{"x":{"field":"t","type":"quantitative","scale":{"domain":[-729,15313],"nice":false,"zero":false},"axis":{"values":[0,2000,4000,6000,8000,10000,12000,14000],"format":"d"}},"y":{"field":"v","type":"quantitative","stack":null,"scale":{"domain":[-20197,17508],"nice":false},"axis":{"values":[-20000,-15000,-10000,-5000,0,5000,10000,15000],"format":"d"}},"y2":{"datum":0},"detail":{"field":"s"}}},
{"data":{"name":"pianoSpikes"},"mark":{"type":"rule","color":"#1f77b4","size":2.8},"encoding":{"x":{"field":"t","type":"quantitative"},"y":{"field":"v","type":"quantitative"},"y2":{"datum":0}}}]}
]}
